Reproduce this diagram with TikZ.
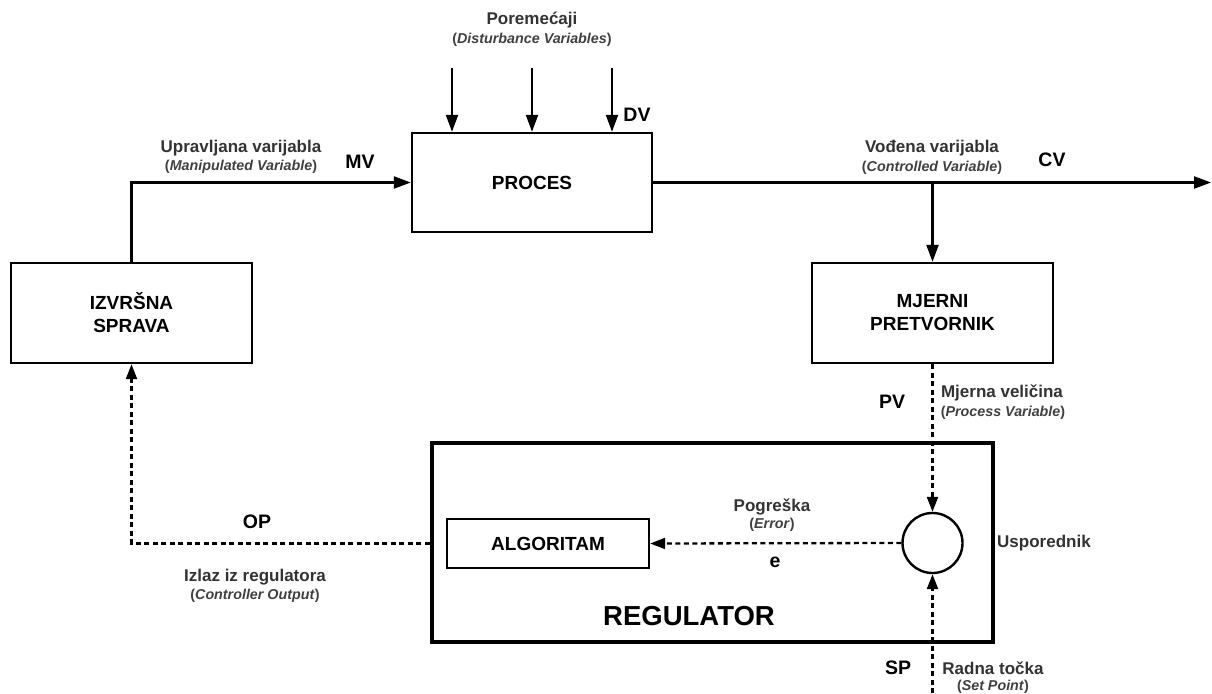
\documentclass[tikz,border=0pt]{standalone}
\usepackage{fontspec}
\setmainfont{Liberation Sans}
\usetikzlibrary{arrows.meta}
\begin{document}
\begin{tikzpicture}[x=1pt,y=-1pt,
  blk/.style={draw, line width=2.4pt, inner sep=0pt, align=center,
    font=\fontsize{19}{23}\selectfont\bfseries},
  conn/.style={line width=2.3pt, -{Triangle[length=17pt,width=12pt]}},
  dconn/.style={line width=2.3pt, -{Triangle[length=15pt,width=11pt]}, dash pattern=on 5pt off 3.5pt},
  lab/.style={inner sep=0pt, font=\fontsize{17}{19}\selectfont\bfseries, text=black!80},
  sub/.style={inner sep=0pt, font=\fontsize{14.3}{16}\selectfont\bfseries, text=black!75},
  tag/.style={inner sep=0pt, font=\fontsize{19.5}{22}\selectfont\bfseries}]
\useasboundingbox (0,0) rectangle (1212,693);
% blocks
\node[blk, minimum width=240pt, minimum height=99pt] (proc) at (532,182.5) {PROCES};
\node[blk, minimum width=241pt, minimum height=100pt] (izv) at (131.5,313) {IZVRŠNA\\SPRAVA};
\node[blk, minimum width=241pt, minimum height=100pt] (mj) at (932.5,313) {MJERNI\\PRETVORNIK};
\node[draw, line width=4.5pt, minimum width=561pt, minimum height=199pt] (reg) at (712.5,542.5) {};
\node[inner sep=0pt, font=\fontsize{27.5}{30}\selectfont\bfseries] (regl) at (689,616) {REGULATOR};
\node[blk, minimum width=202pt, minimum height=49pt] (alg) at (548,543.5) {ALGORITAM};
\node[draw, circle, line width=2.4pt, minimum size=60pt, inner sep=0pt] (cmp) at (932.5,543) {};
% connectors
\coordinate (cvend) at (1211,182.5);
\coordinate (br) at (932.5,182.5);
\coordinate (d1) at (452,68);
\coordinate (d2) at (532,68);
\coordinate (d3) at (612,68);
\coordinate (spin) at (932.5,693);
\draw[conn] (izv.north) |- (proc.west);
\draw[conn] (proc.east) -- (cvend);
\draw[conn] (br) -- (mj.north);
\draw[conn] (d1) -- (d1 |- proc.north);
\draw[conn] (d2) -- (d2 |- proc.north);
\draw[conn] (d3) -- (d3 |- proc.north);
\draw[dconn] (mj.south) -- (cmp.north);
\draw[dconn] (spin) -- (cmp.south);
\draw[dconn] (cmp.west) -- (alg.east);
\draw[dconn] (reg.west |- alg.west) -| (izv.south);
% labels
\node[lab] (pore) at (532,20) {Poremećaji};
\node[sub] (dist) at (532,40) {(\textit{Disturbance Variables})};
\node[tag] (dv) at (637,115) {DV};
\node[lab] (upr) at (241,148) {Upravljana varijabla};
\node[sub] (man) at (241,167) {(\textit{Manipulated Variable})};
\node[tag] (mv) at (360,162) {MV};
\node[lab] (vod) at (932,148) {Vođena varijabla};
\node[sub] (con) at (932,168) {(\textit{Controlled Variable})};
\node[tag] (cv) at (1052,160) {CV};
\node[tag] (pv) at (892,402) {PV};
\node[lab] (mjv) at (1002,393) {Mjerna veličina};
\node[sub] (prv) at (1003,413) {(\textit{Process Variable})};
\node[tag] (op) at (257,522) {OP};
\node[lab] (izl) at (255,577) {Izlaz iz regulatora};
\node[sub] (cop) at (255,596) {(\textit{Controller Output})};
\node[lab] (pog) at (772,507) {Pogreška};
\node[sub] (err) at (772,525) {(\textit{Error})};
\node[tag] (e) at (775,562) {e};
\node[lab, anchor=west] (usp) at (997,543) {Usporednik};
\node[tag] (sp) at (898,668) {SP};
\node[lab] (rad) at (993,668) {Radna točka};
\node[sub] (set) at (993,687) {(\textit{Set Point})};
\end{tikzpicture}
\end{document}
